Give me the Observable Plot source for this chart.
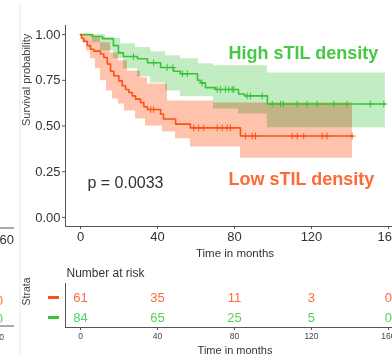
<!DOCTYPE html>
<html><head><meta charset="utf-8">
<script src="https://cdn.jsdelivr.net/npm/d3@7"></script>
<script src="https://cdn.jsdelivr.net/npm/@observablehq/plot@0.6"></script>
<style>
body{margin:0;background:#fff;}
#wrap{position:relative;width:392px;height:355px;overflow:hidden;font-family:"Liberation Sans",Arial,sans-serif;background:#fff;}
#wrap svg{position:absolute;left:0;overflow:visible;}
</style></head><body><div id="wrap"></div>
<script>
// ---------- data ----------
const strata = ["Low sTIL density", "High sTIL density"];
const timeTicks = [0, 40, 80, 120, 160];
const survTicks = [0, 0.25, 0.5, 0.75, 1];
const pText = "p = 0.0033";

// High sTIL density (green) Kaplan-Meier estimate
const highTime = [0, 6.2, 11.4, 17.1, 19.7, 22.3, 29.6, 34.8, 41.6, 48.3, 51.9, 60.8, 62.3, 64.9, 70.1, 82.1, 85.2, 97.1, 158.4];
const highSurv = [1, 0.99, 0.978, 0.94, 0.90, 0.88, 0.868, 0.846, 0.82, 0.80, 0.786, 0.75, 0.736, 0.71, 0.70, 0.675, 0.665, 0.62, 0.62];
const highCensor = [27.5, 38, 45, 48, 53, 55.5, 63.2, 71, 72.7, 75.3, 77, 78.8, 79.6, 86.6, 88.3, 94.4, 99.6, 103.9, 105.3, 112.6, 117.8, 123, 131.6, 138.5, 150.6, 157.6];
const highBandTime = [0, 6.2, 10.4, 13.0, 17.1, 20.8, 22.3, 28.6, 29.6, 36.4, 44.2, 51.9, 61.3, 69.1, 82.1, 97.1, 158.4];
const highUpper = [1, 1, 1, 0.98, 0.98, 0.95, 0.95, 0.93, 0.93, 0.906, 0.885, 0.868, 0.84, 0.83, 0.83, 0.79, 0.79];
const highLower = [1, 0.956, 0.912, 0.912, 0.868, 0.868, 0.813, 0.813, 0.77, 0.736, 0.692, 0.66, 0.66, 0.593, 0.566, 0.49, 0.49];

// Low sTIL density (red) Kaplan-Meier estimate
const lowTime = [0, 0.5, 1.7, 3.5, 5.2, 6.9, 10.4, 12.1, 13.9, 15.6, 17.3, 19.9, 21.7, 23.4, 25.1, 26.9, 28.6, 31.2, 32.9, 34.8, 41.6, 43.1, 49.4, 57.1, 83.1, 141.3];
const lowSurv = [1, 0.98, 0.963, 0.94, 0.92, 0.91, 0.894, 0.875, 0.839, 0.80, 0.775, 0.747, 0.72, 0.70, 0.683, 0.665, 0.647, 0.628, 0.605, 0.59, 0.566, 0.538, 0.51, 0.49, 0.445, 0.445];
const lowCensor = [36.5, 38, 58.9, 61.4, 64, 71, 73.6, 76.2, 77.9, 85.7, 89.2, 90.9, 110, 112.6, 116, 125.5, 128.1, 141.1];
const lowBandTime = [0, 1.0, 3.1, 5.2, 6.8, 7.8, 10.4, 13.5, 15.6, 16.6, 19.7, 22.9, 24.4, 28.6, 31.2, 33.8, 34.8, 42.6, 45.2, 49.4, 57.1, 69.1, 83.1, 141.3];
const lowUpper = [1, 1, 1, 1, 0.983, 0.983, 0.956, 0.956, 0.90, 0.90, 0.857, 0.857, 0.80, 0.80, 0.764, 0.764, 0.73, 0.73, 0.637, 0.637, 0.637, 0.626, 0.626, 0.626];
const lowLower = [1, 0.956, 0.912, 0.868, 0.868, 0.813, 0.747, 0.692, 0.692, 0.648, 0.62, 0.582, 0.582, 0.538, 0.538, 0.5, 0.5, 0.467, 0.467, 0.43, 0.385, 0.385, 0.324, 0.324];

// Number at risk
const riskLow = [61, 35, 11, 3, 0];
const riskHigh = [84, 65, 25, 5, 0];

// ---------- styling ----------
const GREEN = "#35c435", GREEN_TXT = "#45c945", GREEN_RISK = "#55d455";
const RED = "#ff5014", RED_TXT = "#ff6a33", RED_RISK = "#ff6a3a";
const FONT = "'Liberation Sans', Arial, sans-serif";
const AX = "#555";

const stepAt = (ts, vs, t) => vs[Math.max(0, d3.bisectRight(ts, t) - 1)];
const line = (ts, vs) => ts.map((t, i) => ({t, s: vs[i]}));
const band = (ts, lo, hi) => ts.map((t, i) => ({t, lo: lo[i], hi: hi[i]}));
const cens = (cs, ts, vs) => cs.map(t => ({t, s: stepAt(ts, vs, t)}));

const xDomain = [-7.8, 162.1];
const wrap = document.getElementById("wrap");

const c1 = Plot.plot({
  width: 392, height: 262,
  marginLeft: 65, marginRight: 0, marginTop: 25, marginBottom: 36,
  x: {domain: xDomain},
  y: {domain: [-0.05, 1.05]},
  style: {fontFamily: FONT, background: "transparent", color: "#333"},
  marks: [
    Plot.areaY(band(highBandTime, highLower, highUpper), {x: "t", y1: "lo", y2: "hi", curve: "step-after", fill: GREEN, fillOpacity: 0.3}),
    Plot.areaY(band(lowBandTime, lowLower, lowUpper), {x: "t", y1: "lo", y2: "hi", curve: "step-after", fill: RED, fillOpacity: 0.35}),
    Plot.lineY(line(highTime, highSurv), {x: "t", y: "s", curve: "step-after", stroke: GREEN, strokeWidth: 1.6}),
    Plot.lineY(line(lowTime, lowSurv), {x: "t", y: "s", curve: "step-after", stroke: RED, strokeWidth: 1.6}),
    Plot.dot(cens(highCensor, highTime, highSurv), {x: "t", y: "s", symbol: "plus", r: 2.3, stroke: GREEN, strokeWidth: 1}),
    Plot.dot(cens(lowCensor, lowTime, lowSurv), {x: "t", y: "s", symbol: "plus", r: 2.3, stroke: RED, strokeWidth: 1}),
    Plot.ruleX([xDomain[0]], {stroke: AX}),
    Plot.ruleY([-0.05], {stroke: AX}),
    Plot.axisX({ticks: timeTicks, tickSize: 3, tickPadding: 2, fontSize: 13, label: null, stroke: AX, color: "#333"}),
    Plot.axisY({ticks: survTicks, tickFormat: d3.format(".2f"), tickSize: 3, tickPadding: 2, fontSize: 13, label: null, stroke: AX, color: "#333"}),
    Plot.text(["Survival probability"], {frameAnchor: "left", rotate: -90, dx: -39, fontSize: 11, fill: "#444"}),
    Plot.text(["Time in months"], {frameAnchor: "bottom", dx: 6, dy: 30, fontSize: 11.5, fill: "#333"}),
    Plot.text([strata[1]], {x: 76.9, y: 0.896, textAnchor: "start", fontSize: 18, fontWeight: "bold", fill: GREEN_TXT}),
    Plot.text([strata[0]], {x: 76.9, y: 0.206, textAnchor: "start", fontSize: 18, fontWeight: "bold", fill: RED_TXT}),
    Plot.text([pText], {x: 3.6, y: 0.187, textAnchor: "start", fontSize: 16, fill: "#333"})
  ]
});
d3.select(c1).selectAll('g[aria-label="area"]').style("mix-blend-mode", "multiply");
c1.style.top = "0px";
wrap.appendChild(c1);

// risk table
const riskRows = [
  ...timeTicks.map((t, i) => ({t, n: riskLow[i], row: 1, c: RED_RISK})),
  ...timeTicks.map((t, i) => ({t, n: riskHigh[i], row: 2, c: GREEN_RISK}))
];
const strataRows = [{row: 1, c: RED}, {row: 2, c: GREEN}];
const dash = {draw(ctx) { ctx.rect(-5.5, -1.5, 11, 3); }};

const c2 = Plot.plot({
  width: 392, height: 93,
  marginLeft: 65, marginRight: 0, marginTop: 21, marginBottom: 28,
  x: {domain: xDomain},
  y: {domain: [0.3, 2.5], reverse: true, axis: null},
  style: {fontFamily: FONT, background: "transparent", color: "#333"},
  marks: [
    Plot.ruleX([xDomain[0]], {stroke: AX}),
    Plot.ruleY([2.5], {stroke: AX}),
    Plot.axisX({ticks: timeTicks, tickSize: 3, tickPadding: 2, fontSize: 8.5, label: null, stroke: AX, color: "#444"}),
    Plot.text(riskRows, {x: "t", y: "row", text: "n", fill: "c", fontSize: 13}),
    Plot.dot(strataRows, {frameAnchor: "left", y: "row", dx: -12, symbol: dash, r: 3, fill: "c", stroke: null}),
    Plot.text(["Number at risk"], {frameAnchor: "top-left", textAnchor: "start", dx: 1, dy: -10, lineAnchor: "middle", fontSize: 12, fill: "#333"}),
    Plot.text(["Strata"], {frameAnchor: "left", rotate: -90, dx: -39, fontSize: 10.5, fill: "#444"}),
    Plot.text(["Time in months"], {frameAnchor: "bottom", dx: 6, dy: 26, fontSize: 11, fill: "#333"})
  ]
});
c2.style.top = "262px";
wrap.appendChild(c2);

// fragments of the neighbouring panel at the left edge
const frag = d3.create("svg").attr("width", 22).attr("height", 355).style("top", "0px");
frag.append("line").attr("x1", 20).attr("x2", 20).attr("y1", 4).attr("y2", 355).attr("stroke", "#e8e8e8");
frag.append("line").attr("x1", 0).attr("x2", 14).attr("y1", 228).attr("y2", 228).attr("stroke", AX);
frag.append("text").attr("x", 14).attr("y", 239).attr("dy", "0.35em").attr("text-anchor", "end").attr("font-size", 13).attr("fill", "#333").attr("font-family", FONT).text("160");
frag.append("text").attr("x", 3).attr("y", 300).attr("dy", "0.35em").attr("text-anchor", "end").attr("font-size", 13).attr("fill", RED_RISK).attr("font-family", FONT).text("0");
frag.append("text").attr("x", 3).attr("y", 318).attr("dy", "0.35em").attr("text-anchor", "end").attr("font-size", 13).attr("fill", GREEN_RISK).attr("font-family", FONT).text("0");
frag.append("line").attr("x1", 0).attr("x2", 14).attr("y1", 326).attr("y2", 326).attr("stroke", AX);
frag.append("text").attr("x", 4).attr("y", 337).attr("dy", "0.35em").attr("text-anchor", "end").attr("font-size", 8.5).attr("fill", "#444").attr("font-family", FONT).text("160");
wrap.appendChild(frag.node());
</script></body></html>
